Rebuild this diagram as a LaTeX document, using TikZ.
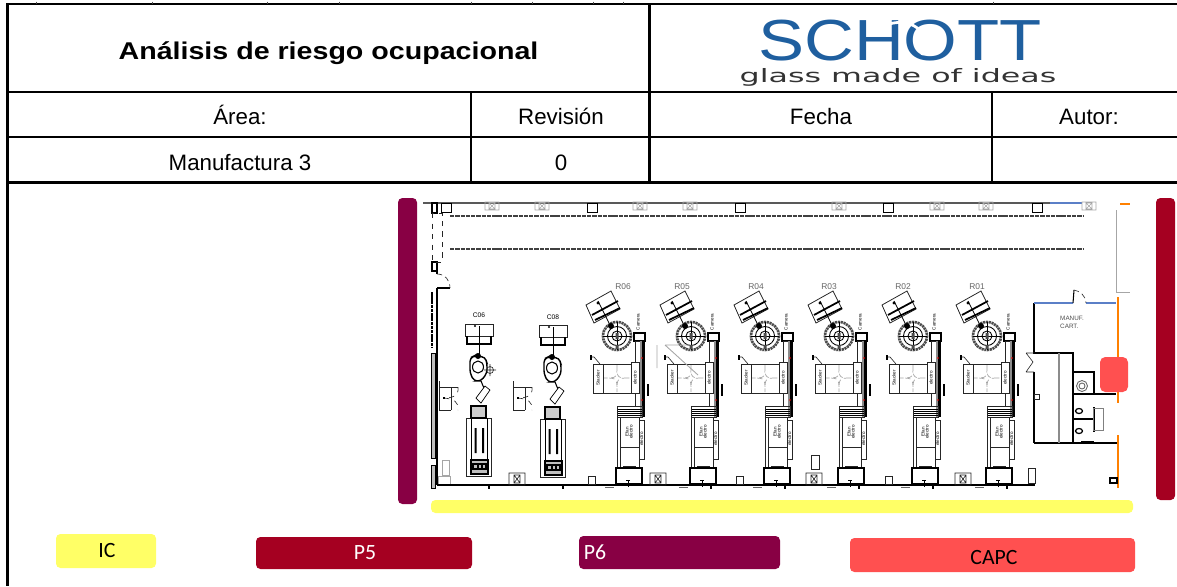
\documentclass[tikz,border=0pt]{standalone}
\usepackage{fontspec}
\setmainfont{Liberation Sans}
\newfontfamily\lgdfont{Carlito}
\newfontfamily\logofont{DejaVu Sans}
\usetikzlibrary{calc}
\definecolor{icyellow}{HTML}{FFFF66}
\definecolor{pfive}{HTML}{A50021}
\definecolor{psix}{HTML}{880044}
\definecolor{capcred}{HTML}{FF5050}
\definecolor{schottblue}{HTML}{1F5F9F}
\definecolor{wallorange}{HTML}{FF8000}
\definecolor{wallblue}{HTML}{5B7FC7}
\tikzset{
  rule/.style={line width=1.2pt},
  cell/.style={font=\fontsize{12.7}{14}\selectfont,inner sep=0pt,anchor=base},
  bar/.style={rounded corners=2.5pt,draw=none},
  lgd/.style={font=\lgdfont\fontsize{12.4}{14}\selectfont,inner sep=0pt},
  wall/.style={line width=1.2pt},
  thin plan/.style={line width=.35pt,black!85},
  faint/.style={line width=.3pt,black!35},
  micro/.style={font=\fontsize{2.6}{3}\selectfont,inner sep=0pt,rotate=90},
  crossbox/.pic={
    \draw[thin plan] (-8,-6) rectangle (8,6) (-3,-4) -- (3,4) (-3,4) -- (3,-4) (-3,-4) rectangle (3,4);
  },
  faintbox/.pic={
    \draw[faint] (-7,-4) rectangle (7,4) (-3,-3) -- (3,3) (-3,3) -- (3,-3) (-3,-3) rectangle (3,3);
  },
  doors/.pic={
    \draw[thin plan] (0,-6) -- (0,23) -- (12,23) (0,0) -- (19,0) (12,0) -- (12,23);
    \draw[thin plan,dashed] (19,0) .. controls (20,8) and (15,11) .. (5,11) .. controls (15,12) and (20,15) .. (19,23);
    \fill (4,10) rectangle (6,12);
  },
  press/.pic={
    % feeder
    \draw[thin plan,fill=white,line width=.45pt] (-31,-31) -- (-6,-45) -- (3,-27) -- (-23,-13) -- cycle;
    \draw[line width=1pt] (-25,-21) -- (1,-35) (-22,-16) -- (3,-28);
    \draw[line width=.5pt] (-19,-35) -- (-7,-11);
    \fill (-19,-33) circle (1.6);
    % ring
    \draw[line width=1.5pt,black!70,dash pattern=on 1.2pt off .4pt] (0,0) circle (14);
    \draw[line width=.5pt] (0,0) circle (9.5) (0,0) circle (5);
    \draw[line width=.3pt] (-14,0) -- (14,0) (0,-14) -- (0,14);
    \fill (-6,-10) circle (3);
    \fill[black!70] (-1.5,-3) rectangle (1.5,3) (-1.5,9) rectangle (1.5,13);
    \node[micro] at (21,-14) {Camera};
    % conveyor
    \draw[wall,line width=.6pt,fill=white] (17,-3) rectangle (28,5);
    \draw[thin plan] (18,5) rectangle (23,70);
    \fill[black!45] (23,5) rectangle (25,81);
    \fill[black] (25,5) rectangle (28,81);
    \fill[red] (25,22) circle (.9) (25,64) circle (.9);
    \fill (30,48) rectangle (32,60);
    % stacker
    \draw[thin plan,fill=white] (-24,28) rectangle (14,57) (-14,28) -- (-14,57);
    \draw[thin plan,fill=white] (14,26) rectangle (22,57);
    \draw[faint,line width=.4pt,densely dashed] (0,29) .. controls (0,42) .. (13,42) .. controls (0,42) .. (0,56) .. controls (0,42) .. (-13,42) .. controls (0,42) .. (0,29);
    \draw[thin plan] (-17,28) -- (-23,21) -- (-27,21);
    \fill (-27,19) rectangle (-25,24);
    \node[micro] at (-19,42) {Stacker};
    \node[micro] at (18,42) {electro};
    % oven
    \draw[thin plan] (0,70) rectangle (25,81);
    \draw[line width=.35pt] (0,73) -- (25,73) (0,75) -- (25,75) (0,77) -- (25,77) (0,79) -- (25,79);
    \draw[thin plan] (0,70) -- (0,132) (3,81) rectangle (22,111) (22,84) rectangle (27,123);
    \draw[thin plan] (3,111) -- (3,132) (22,111) -- (22,132) (6,130) -- (19,130);
    \node[micro] at (10,96) {Efan};
    \node[micro] at (14,96) {electro};
    \node[micro] at (24.5,103) {electro};
    \draw[line width=.6pt,fill=white] (-1,132) rectangle (25,148);
    \draw[line width=.5pt] (11,144) -- (11,151) (9,144) -- (13,144);
  },
  cutter/.pic={
    \draw[thin plan,line width=.5pt] (-14,9) rectangle (14,21);
    \draw[line width=.7pt] (-12,21) -- (-12,29) -- (12,29) -- (12,21);
    \draw[line width=.5pt] (0,11) -- (0,40);
    \fill (-4,11) circle (1.2) (-1,41) circle (3);
    \draw[line width=.8pt,rounded corners=2pt] (-9,43) -- (-5,41) -- (6,42) -- (8,48) -- (8,58) -- (2,66) -- (-5,66) -- (-9,58) -- cycle;
    \draw[line width=.6pt] (-1,52) ellipse (5.5 and 6);
    \draw[line width=.6pt] (2,66) -- (7,78);
    \fill[white,draw=black,line width=.4pt] (-3,83) -- (6,71) -- (11,75) -- (2,88) -- cycle;
    \draw[thin plan,fill=white] (-13,103) rectangle (12,161);
    \draw[line width=.7pt,fill=black!20] (-8,91) rectangle (7,103);
    \draw[line width=.5pt,fill=white] (-8,103) rectangle (8,145);
    \fill (-4.5,113) rectangle (-2.5,138) (3,113) rectangle (5,138);
    \draw[line width=.6pt,fill=black!25] (-8,145) rectangle (9,159);
    \draw[line width=.6pt] (-6,149) rectangle (7,154) (-1,149) -- (-1,154) (3,149) -- (3,154);
  },
}
\begin{document}
\begin{tikzpicture}[x=.02cm,y=-.02cm]
\useasboundingbox (0,0) rectangle (1177,586);
% table
\draw[rule] (1177,4) -- (7.5,4) -- (7.5,586);
\draw[rule] (7.5,92) -- (1177,92);
\draw[rule] (7.5,137) -- (1177,137);
\draw[rule,line width=1.7pt] (7.5,182) -- (1177,182);
\draw[rule] (649.5,4) -- (649.5,182);
\draw[rule] (471,92) -- (471,182) (992,92) -- (992,182);
\foreach \x in {36,152,267,339,471,532,593,623,993}
  \draw[line width=.4pt,black!70] (\x,1.5) -- (\x,4);
\node[cell,font=\bfseries\fontsize{13.8}{16}\selectfont,xscale=1.18,transform shape] (title) at (328.5,59) {Análisis de riesgo ocupacional};
\node[cell] (area) at (240,124) {Área:};
\node[cell] (rev) at (561,124) {Revisión};
\node[cell] (fecha) at (821,124) {Fecha};
\node[cell] (autor) at (1089,124) {Autor:};
\node[cell] (manuf) at (240,170) {Manufactura 3};
\node[cell] (rev0) at (561,170) {0};
% logo
\node[cell,text=schottblue,font=\fontsize{33}{33}\selectfont,xscale=1.19,transform shape] (schott) at (900,60) {SCHOTT};
\draw[white,line width=1.6pt] (889,24) .. controls (910,18) and (932,30) .. (922,55);
\node[cell,text=black!80,font=\logofont\fontsize{10.5}{12}\selectfont,xscale=1.72,transform shape] (claim) at (898,82) {glass made of ideas};
% plan
\draw[line width=1pt,black!65] (423,203) -- (1050,203);
\draw[line width=1pt,wallblue] (1050,203) -- (1082,203);
\draw[line width=1pt,wallorange] (1120,204) -- (1130,204);
\foreach \x in {441,587,735,883,1032}
  \draw[line width=.45pt] (\x,203) rectangle (\x+10,212);
\foreach \x in {492,542,640,690,839,937,986,1089}
  \pic at (\x,206) {faintbox};
\draw[line width=.6pt,dash pattern=on 2.5pt off .5pt,black!75] (450,216) -- (1083,216) (450,249) -- (1083,249);
% left wall
\draw[wall] (437,288) -- (437,485);
\draw[wall,line width=.8pt] (432,203) rectangle (437,213) (432,262) rectangle (437,271);
\draw[thin plan,dashed] (432,213) rectangle (442,262);
\draw[wall,line width=.8pt] (437,271) -- (437,274) (437,288) -- (450,288);
\draw[thin plan,densely dashed] (437,274) .. controls (445,274) and (450,280) .. (450,288);
\draw[line width=.9pt,dash pattern=on 2pt off .4pt] (432,292) -- (432,347);
\draw[line width=.4pt,fill=black!25] (431,353) rectangle (435,458);
\draw[line width=.4pt,fill=black!25] (431,465) rectangle (435,488);
\draw[faint] (442,460) rectangle (449,475) (438,476) rectangle (450,485);
% bottom wall
\draw[wall,line width=1.6pt] (437,485) -- (1035,485);
\foreach \x in {489,563,711,785,859,933,1007}
  \draw[line width=.7pt] (\x,485) -- (\x,489);
\foreach \x in {605,679,753,827,901,975}
  \draw[line width=.3pt,black!60] (\x,487) -- (\x+9,487);
\foreach \x in {517,658,814,963}
  \pic at (\x,479) {crossbox};
\foreach \x in {588,736,885}
  \draw[thin plan] (\x,476) rectangle (\x+7,484);
\draw[thin plan] (811,455) rectangle (819,469);
\fill (923,478) rectangle (928,485) (997,478) rectangle (1002,485);
% machines
\foreach \x in {617,691,...,987}
  \pic at (\x,336) {press};
\node[inner sep=0pt,text=black!60,font=\fontsize{4.8}{5}\selectfont] (r06) at (623,287) {R06};
\foreach \x/\nm in {682/R05,756/R04,829/R03,903/R02,977/R01}
  \node[inner sep=0pt,text=black!60,font=\fontsize{4.8}{5}\selectfont] (\nm) at (\x,287) {\nm};
\pic at (479,315) {cutter};
\pic at (553,316) {cutter};
\node[inner sep=0pt,font=\fontsize{3.8}{4}\selectfont] (c06) at (479,315) {C06};
\node[inner sep=0pt,font=\fontsize{3.8}{4}\selectfont] (c08) at (553,317) {C08};
\pic at (439,387) {doors};
\pic at (513,387) {doors};
\draw[thin plan] (490,370) circle (3.5) (484,370) -- (496,370) (490,364) -- (490,376);
\draw[faint,line width=.5pt] (657,345) -- (657,368) (665,345) -- (690,345) (665,345) -- (698,375);
% orange outer wall
\draw[wallorange,line width=1.2pt] (1118,297) -- (1118,403) (1118,435) -- (1118,488);
\draw[faint,line width=.5pt] (1116,210) -- (1116,292) (1116,292) -- (1130,292);
% rooms
\draw[wall] (1034,303) -- (1034,353) -- (1073,353) -- (1073,443);
\draw[wall] (1034,443) -- (1117,443);
\draw[line width=.6pt] (1034,372) -- (1034,443);
\draw[wallblue,line width=1.1pt] (1034,303) -- (1073,303) (1086,303) -- (1116,303);
\draw[line width=.6pt] (1073,303) -- (1074,290);
\draw[thin plan,densely dashed] (1074,290) .. controls (1080,291) and (1086,296) .. (1086,303);
\draw[wall] (1073,394) -- (1116,394);
\draw[line width=.9pt,black!45] (1059,353) -- (1059,443);
\draw[line width=.8pt] (1073,372) -- (1094,372) -- (1094,394);
\draw[line width=.5pt,black!60] (1082,386) circle (5.5) (1082,386) circle (3);
\draw[line width=.7pt] (1074,419) -- (1094,419) (1094,407) -- (1094,432);
\draw[line width=.7pt] (1079,411) ellipse (3.5 and 2.5) (1079,431) ellipse (3.5 and 2.5);
\draw[thin plan,black!50] (1093,408) rectangle (1103,430);
\draw[line width=.6pt] (1081,442) -- (1094,442);
\draw[thin plan] (1026,353) -- (1034,353) (1026,372) -- (1034,372) (1026,353) -- (1033,362) -- (1026,372);
\draw[thin plan] (1034,394) rectangle (1039,399);
\draw[thin plan] (1028,468) rectangle (1035,483);
\draw[line width=.8pt] (1110,478) rectangle (1117,483);
\node[inner sep=0pt,text=black!70,align=left,font=\fontsize{3.6}{4.4}\selectfont] (cart) at (1072,322) {MANUF.\\CART.};
% zones
\fill[bar,fill=psix] (398,198) rectangle (417,504);
\fill[bar,fill=pfive] (1156,198) rectangle (1175,500);
\fill[bar,fill=icyellow] (431,500) rectangle (1133,513);
\fill[bar,fill=capcred,rounded corners=3pt] (1100,357) rectangle (1128,392);
% legend
\fill[bar,fill=icyellow] (56,534) rectangle (156,568);
\fill[bar,fill=pfive] (256,537) rectangle (472,569);
\fill[bar,fill=psix] (579,536) rectangle (780,569);
\fill[bar,fill=capcred] (850,538) rectangle (1135,572);
\node[lgd] (ic) at (107,550) {IC};
\node[lgd,text=white] (p5) at (365,553) {P5};
\node[lgd,text=white] (p6) at (595,552) {P6};
\node[lgd] (capc) at (994,557) {CAPC};
\end{tikzpicture}
\end{document}
